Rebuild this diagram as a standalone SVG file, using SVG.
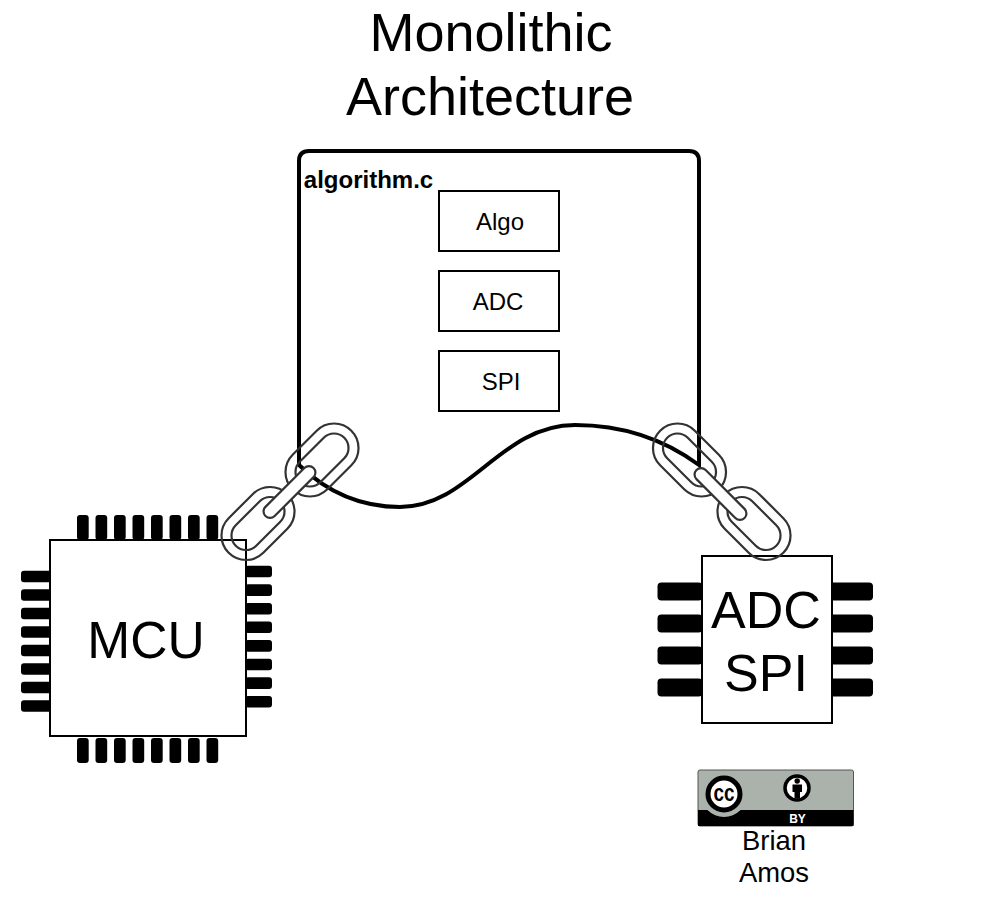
<svg xmlns="http://www.w3.org/2000/svg" width="1008" height="914" viewBox="0 0 1008 914">
<style>
text{font-family:"Liberation Sans",Arial,sans-serif;fill:#000;text-anchor:middle}
.box{fill:#fff;stroke:#000;stroke-width:2}
.pin{fill:#000}
.ring{fill:none;stroke:#333;stroke-width:2.2}
.bar{fill:#fff;stroke:#333;stroke-width:2.2}
</style>
<defs>
<g id="link">
<rect class="ring" x="-41.500" y="-24.500" width="83" height="49" rx="24.500"/>
<rect class="ring" x="-31.500" y="-14.500" width="63" height="29" rx="14.500"/>
</g>
<rect id="pv" class="pin" width="11.700" height="25" rx="3"/>
<rect id="ph" class="pin" width="31" height="11.600" rx="3"/>
<rect id="pr" class="pin" width="27" height="11.600" rx="3"/>
<rect id="pa" class="pin" width="45" height="18" rx="4"/>
</defs>
<rect width="1008" height="914" fill="#fff"/>
<g id="title" font-size="54"><text x="491" y="51">Monolithic</text><text x="490" y="115">Architecture</text></g>
<g id="mcu">
<use href="#pv" x="77" y="515"/><use href="#pv" x="95.500" y="515"/><use href="#pv" x="114" y="515"/><use href="#pv" x="132.500" y="515"/><use href="#pv" x="151" y="515"/><use href="#pv" x="169.500" y="515"/><use href="#pv" x="188" y="515"/><use href="#pv" x="206.500" y="515"/>
<use href="#pv" x="77" y="738"/><use href="#pv" x="95.500" y="738"/><use href="#pv" x="114" y="738"/><use href="#pv" x="132.500" y="738"/><use href="#pv" x="151" y="738"/><use href="#pv" x="169.500" y="738"/><use href="#pv" x="188" y="738"/><use href="#pv" x="206.500" y="738"/>
<use href="#ph" x="21" y="570.700"/><use href="#ph" x="21" y="589.200"/><use href="#ph" x="21" y="607.700"/><use href="#ph" x="21" y="626.200"/><use href="#ph" x="21" y="644.700"/><use href="#ph" x="21" y="663.200"/><use href="#ph" x="21" y="681.700"/><use href="#ph" x="21" y="700.200"/>
<use href="#pr" x="245" y="565.700"/><use href="#pr" x="245" y="584.300"/><use href="#pr" x="245" y="602.900"/><use href="#pr" x="245" y="621.500"/><use href="#pr" x="245" y="640.100"/><use href="#pr" x="245" y="658.700"/><use href="#pr" x="245" y="677.300"/><use href="#pr" x="245" y="696"/>
<rect class="box" x="50" y="540" width="196" height="196"/>
<text x="146" y="658" font-size="51.500">MCU</text>
</g>
<g id="adc-chip">
<use href="#pa" x="657.500" y="582.500"/><use href="#pa" x="657.500" y="614.500"/><use href="#pa" x="657.500" y="646.500"/><use href="#pa" x="657.500" y="678.500"/>
<use href="#pa" x="828" y="582.500"/><use href="#pa" x="828" y="614.500"/><use href="#pa" x="828" y="646.500"/><use href="#pa" x="828" y="678.500"/>
<rect class="box" x="702" y="556" width="130" height="167"/>
<text x="766" y="628" font-size="52">ADC</text><text x="766" y="691" font-size="52">SPI</text>
</g>
<g id="algorithm-c">
<path d="M299 465V161Q299 151 309 151H689Q699 151 699 161V465C665 440 625 425 575 425C500 425 470 507 400 507C365 507 330 495 299 465Z" fill="none" stroke="#000" stroke-width="4"/>
<text x="368.500" y="188" font-size="24" font-weight="bold">algorithm.c</text>
</g>
<g id="algo"><rect class="box" x="439" y="191" width="120" height="60"/><text x="500" y="230" font-size="24">Algo</text></g>
<g id="adc"><rect class="box" x="439" y="271" width="120" height="60"/><text x="498" y="310" font-size="24">ADC</text></g>
<g id="spi"><rect class="box" x="439" y="351" width="120" height="60"/><text x="501" y="390" font-size="24">SPI</text></g>
<g id="connectors">
<g id="chain-left">
<use href="#link" transform="translate(322 460) rotate(-45)"/>
<use href="#link" transform="translate(258 523.500) rotate(-45)"/>
<rect class="bar" x="-34" y="-6.500" width="68" height="13" rx="6.500" transform="translate(289.500 492) rotate(-45)"/>
</g>
<g id="chain-right">
<use href="#link" transform="translate(689.500 460) rotate(45)"/>
<use href="#link" transform="translate(754 523.500) rotate(45)"/>
<rect class="bar" x="-34" y="-6.500" width="68" height="13" rx="6.500" transform="translate(720.500 494) rotate(45)"/>
</g>
</g>
<g id="license">
<rect x="698" y="770" width="155.500" height="56" rx="2" fill="#aab2ab" stroke="#555" stroke-width="1"/>
<path d="M698 810H853.500V826H698Z" fill="#000"/>
<circle cx="724" cy="794" r="23" fill="#aab2ab"/>
<circle cx="724" cy="794" r="16" fill="#fff" stroke="#000" stroke-width="5"/>
<text x="724" y="801" font-size="23" font-weight="bold" textLength="21" lengthAdjust="spacingAndGlyphs">cc</text>
<circle cx="797" cy="788" r="12" fill="#fff" stroke="#000" stroke-width="3.500"/>
<circle cx="797.200" cy="781" r="2.700" fill="#000"/>
<path d="M792.500 784.500h9.500v7.500h-2v6.500h-5.500v-6.500h-2z" fill="#000"/>
<text x="797.500" y="823" font-size="12" font-weight="bold" style="fill:#fff">BY</text>
</g>
<g id="credit" font-size="27.400"><text x="774" y="850">Brian</text><text x="774" y="882">Amos</text></g>
</svg>
